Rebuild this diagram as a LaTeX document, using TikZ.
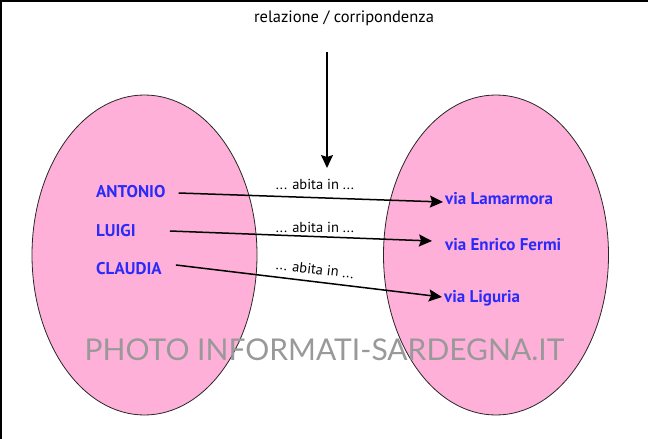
\documentclass[tikz,border=0pt]{standalone}
\usepackage{fontspec}
\setmainfont{PT Sans}
\newfontfamily\markfont{Lato}
\usetikzlibrary{arrows.meta,shapes.geometric}
\definecolor{setpink}{RGB}{255,176,216}
\definecolor{nameblue}{RGB}{42,42,250}

\begin{document}
\begin{tikzpicture}[x=1pt,y=-1pt,
    set/.style={ellipse,draw=black!85,fill=setpink,line width=0.8pt,
      minimum width=225pt,minimum height=320pt,inner sep=0pt},
    elem/.style={anchor=west,inner sep=0pt,text=nameblue,
      font=\bfseries\fontsize{17}{20}\selectfont},
    rel/.style={-{Stealth[length=13pt,width=12pt,inset=2pt]},line width=1.5pt},
    tag/.style={inner sep=0pt,font=\fontsize{14.5}{17}\selectfont}]
  \useasboundingbox (0,0) rectangle (648,439);
  \draw[line width=1.5pt] (0.75,439) -- (0.75,0.75) -- (648,0.75);

  % the two sets
  \node[set] (people) at (144.5,255) {};
  \node[set] (streets) at (496,255) {};

  % watermark
  \node[inner sep=0pt,text=black!40,font=\markfont\fontsize{30}{34}\selectfont]
    (mark) at (324.5,350) {PHOTO INFORMATI-SARDEGNA.IT};

  % elements
  \node[elem] (antonio) at (96,192) {ANTONIO};
  \node[elem] (luigi)   at (96,231) {LUIGI};
  \node[elem] (claudia) at (96,269) {CLAUDIA};
  \node[elem] (lamarmora) at (445,199) {via Lamarmora};
  \node[elem] (fermi)     at (445,245) {via Enrico Fermi};
  \node[elem] (liguria)   at (444,298) {via Liguria};

  % relation
  \node[tag,font=\fontsize{16.5}{19}\selectfont] (title) at (344,18) {relazione / corripondenza};
  \coordinate (from) at (327,52);
  \coordinate (hit) at (327,168);
  \draw[rel] (from) -- (hit);

  \draw[rel] ([shift={(13,1)}]antonio.east) -- ([shift={(-2,3)}]lamarmora.west);
  \draw[rel] ([shift={(34,0)}]luigi.east) -- ([shift={(-13,-4)}]fermi.west);
  \draw[rel] ([shift={(14,-4)}]claudia.east) -- ([shift={(-2,-1)}]liguria.west);

  \node[tag] (abita1) at (315,184) {... abita in ...};
  \node[tag] (abita2) at (315,227) {... abita in ...};
  \node[tag,rotate=-7] (abita3) at (315,269) {... abita in ...};
\end{tikzpicture}
\end{document}
